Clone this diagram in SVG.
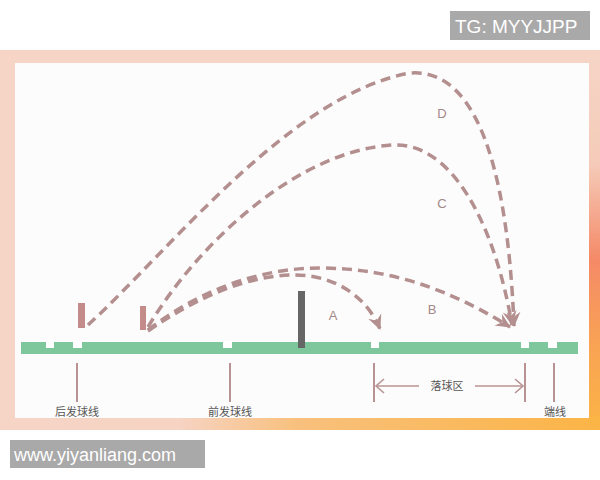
<svg xmlns="http://www.w3.org/2000/svg" width="600" height="480" viewBox="0 0 600 480">
  <defs>
    <linearGradient id="rightStrip" x1="0" y1="50" x2="0" y2="430" gradientUnits="userSpaceOnUse">
      <stop offset="0" stop-color="#f6d5c7"/>
      <stop offset="0.3" stop-color="#f5cbb8"/>
      <stop offset="0.55" stop-color="#f48a68"/>
      <stop offset="0.8" stop-color="#f9a552"/>
      <stop offset="1" stop-color="#fbb445"/>
    </linearGradient>
    <linearGradient id="bottomStrip" x1="0" y1="0" x2="600" y2="0" gradientUnits="userSpaceOnUse">
      <stop offset="0" stop-color="#f6d5c7"/>
      <stop offset="0.3" stop-color="#f6d3c2"/>
      <stop offset="0.5" stop-color="#f8c07c"/>
      <stop offset="1" stop-color="#fbb445"/>
    </linearGradient>
    <marker id="ah" viewBox="-15 -8 17 16" refX="0" refY="0" markerWidth="17" markerHeight="16" orient="auto" markerUnits="userSpaceOnUse">
      <path d="M1,0 L-14,-7 L-9,0 L-14,7 Z" fill="#b48f8f"/>
    </marker>
    <style>
      .traj { fill: none; stroke: #b48f8f; stroke-width: 3.5; stroke-dasharray: 10 6; }
      .tick { stroke: #b99393; stroke-width: 2; }
      .dim { stroke: #b99393; stroke-width: 1.6; fill: none; }
      .lbl { font-family: "Noto Sans CJK SC", "Liberation Sans", sans-serif; font-size: 11px; fill: #555; text-anchor: middle; }
      .let { font-family: "Liberation Sans", Arial, sans-serif; font-size: 13px; fill: #a38888; text-anchor: middle; }
      .wm { font-family: "Liberation Sans", Arial, sans-serif; fill: #ffffff; }
      .notch { fill: #ffffff; }
    </style>
  </defs>

  <!-- frame -->
  <rect x="0" y="50" width="600" height="380" fill="#f6d5c7"/>
  <rect x="585" y="50" width="15" height="380" fill="url(#rightStrip)"/>
  <rect x="0" y="416" width="600" height="14" fill="url(#bottomStrip)"/>
  <rect x="15" y="63" width="574" height="355" fill="#fdfcfc"/>

  <!-- court -->
  <g id="court">
    <rect x="21" y="342" width="557" height="12" fill="#7ec79d"/>
    <rect class="notch" x="46" y="341" width="8" height="7"/>
    <rect class="notch" x="73" y="341" width="9" height="7"/>
    <rect class="notch" x="223" y="341" width="9" height="7"/>
    <rect class="notch" x="371" y="341" width="8" height="7"/>
    <rect class="notch" x="521" y="341" width="8" height="7"/>
    <rect class="notch" x="548" y="341" width="9" height="7"/>
  </g>

  <g id="net">
    <rect x="298" y="291" width="7" height="57" fill="#666666"/>
  </g>

  <g id="player-back">
    <rect x="78" y="303" width="7" height="25" fill="#c48b8b"/>
  </g>
  <g id="player-front">
    <rect x="140" y="306" width="6" height="24" fill="#c48b8b"/>
  </g>

  <!-- trajectories -->
  <g id="connectors">
    <path class="traj" d="M88,325 C170,250 290,95 410,73 C470,68 507,150 514,326" marker-end="url(#ah)"/>
    <path class="traj" d="M148,327 C200,240 300,150 393,145 C450,142 494,220 512,325" marker-end="url(#ah)"/>
    <path class="traj" d="M148,330 C200,290 260,268 320,268 C400,268 462,297 510,327" marker-end="url(#ah)"/>
    <path class="traj" d="M148,331 C200,295 250,275 295,275 C335,275 367,297 380,329" marker-end="url(#ah)"/>
  </g>

  <g id="traj-labels">
    <text class="let" x="333" y="320">A</text>
    <text class="let" x="432" y="314">B</text>
    <text class="let" x="442" y="208">C</text>
    <text class="let" x="442" y="118">D</text>
  </g>

  <!-- line markers -->
  <g id="back-service-line">
    <line class="tick" x1="77" y1="363" x2="77" y2="402"/>
    <text class="lbl" x="77" y="416">后发球线</text>
  </g>
  <g id="front-service-line">
    <line class="tick" x1="230" y1="363" x2="230" y2="402"/>
    <text class="lbl" x="230" y="416">前发球线</text>
  </g>
  <g id="landing-zone">
    <line class="tick" x1="374" y1="363" x2="374" y2="402"/>
    <line class="tick" x1="525" y1="363" x2="525" y2="402"/>
    <line class="dim" x1="376" y1="386" x2="419" y2="386"/>
    <line class="dim" x1="475" y1="386" x2="523" y2="386"/>
    <path class="dim" d="M384,379 L376,386 L384,393"/>
    <path class="dim" d="M515,379 L523,386 L515,393"/>
    <text class="lbl" x="447" y="390">落球区</text>
  </g>
  <g id="end-line">
    <line class="tick" x1="554" y1="363" x2="554" y2="402"/>
    <text class="lbl" x="555" y="416">端线</text>
  </g>

  <!-- watermarks -->
  <g id="wm-tg">
    <rect x="450" y="11" width="140" height="29" fill="#a9a9a9"/>
    <text class="wm" x="455" y="33" font-size="19">TG: MYYJJPP</text>
  </g>
  <g id="wm-site">
    <rect x="10" y="440" width="195" height="28" fill="#a9a9a9"/>
    <text class="wm" x="14" y="461" font-size="18">www.yiyanliang.com</text>
  </g>
</svg>
